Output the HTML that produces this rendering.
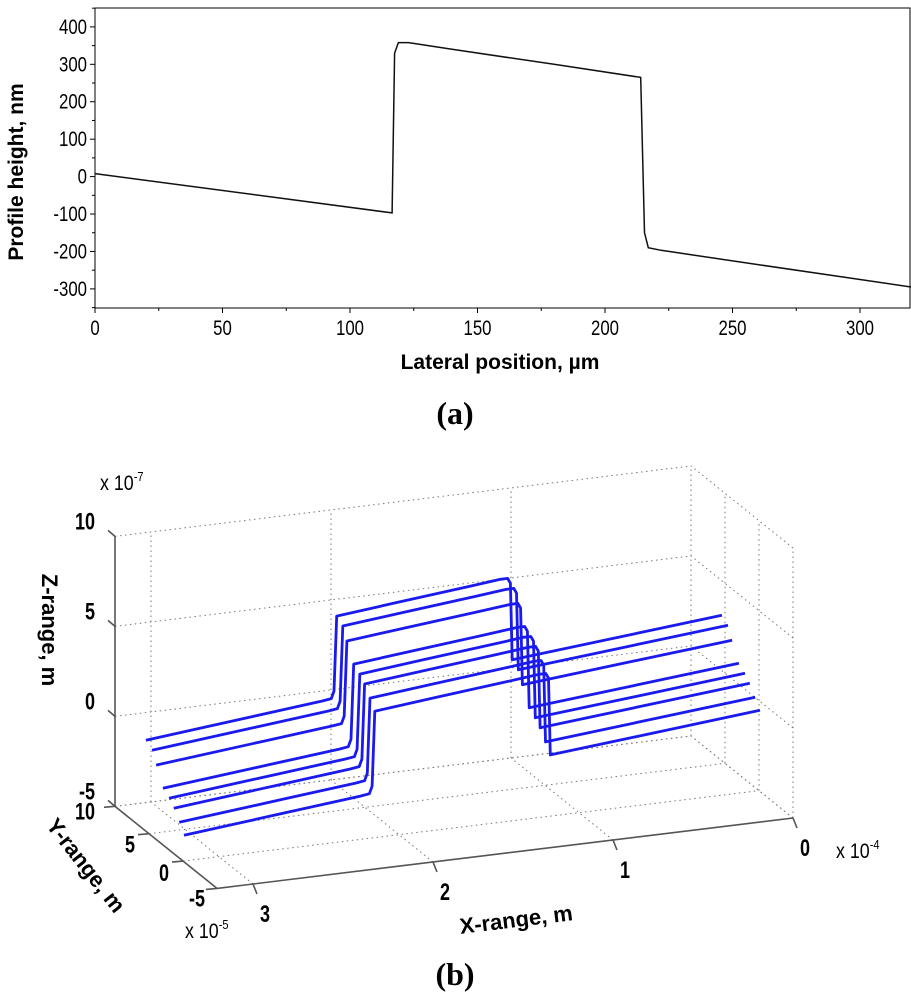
<!DOCTYPE html>
<html><head><meta charset="utf-8">
<style>
html,body{margin:0;padding:0;background:#fff;}
svg{display:block;}
text{font-family:"Liberation Sans",sans-serif;}
</style></head>
<body>
<svg id="fig" width="911" height="1000" viewBox="0 0 911 1000" xmlns="http://www.w3.org/2000/svg">
  <g id="chartA"></g>
  <text x="455" y="424" text-anchor="middle" font-weight="bold" font-size="32" style="font-family:'Liberation Serif',serif">(a)</text>
  <g id="chartB"></g>
  <text x="455" y="985" text-anchor="middle" font-weight="bold" font-size="32" style="font-family:'Liberation Serif',serif">(b)</text>
</svg>
<script>
// ---------- data: 2D profile ----------
const lateralPos = [0, 116.5, 117.5, 119, 123, 140, 180, 214, 215.5, 217, 222, 260, 320];
const heightNm   = [8, -97, 330, 358, 358, 340, 300, 265, -150, -190, -197, -235, -295];
const xTicksA = [0, 50, 100, 150, 200, 250, 300];
const yTicksA = [-300, -200, -100, 0, 100, 200, 300, 400];
// ---------- data: 3D profiles ----------
const rowY    = [8.1, 7.2, 6.6, 5.6, 4.7, 4.0, 3.2, 2.5];
const rowZOff = [-0.87, -1.15, -1.8, -2.78, -3.06, -3.4, -3.94, -4.45];
const xTicksB = [0, 1, 2, 3];
const yTicksB = [-5, 0, 5, 10];
const zTicksB = [-5, 0, 5, 10];

const NS = "http://www.w3.org/2000/svg";
function mk(parent, tag, attrs, txt){
  const e = document.createElementNS(NS, tag);
  for (const k in attrs) e.setAttribute(k, attrs[k]);
  if (txt !== undefined) e.textContent = txt;
  parent.appendChild(e);
  return e;
}
function cond(x, s){ return `translate(${x},0) scale(${s},1) translate(${-x},0)`; }

// ---------- chart A ----------
(function(){
  const g = document.getElementById('chartA');
  const L=95, R=911, T=8, B=308;
  const sx = v => L + v*2.55;
  const sy = v => 176.6 - v*0.3743;
  let e = mk(g,'rect',{x:L,y:T,width:R-L-1,height:B-T,fill:'none',stroke:'#000','stroke-width':1});
  
  
  for (let v=0; v<=320; v+=25){
    const major = v%50===0;
    e = mk(g,'line',{x1:sx(v),x2:sx(v),y1:B,y2:B+(major?5:3),stroke:'#000'});
    
    
  }
  xTicksA.forEach(v=>{
    e = mk(g,'text',{x:sx(v),y:B+27,'text-anchor':'middle','font-size':21,transform:cond(sx(v),0.8)},String(v));
    
    
  });
  for (let v=-350; v<=450; v+=50){
    const major = v%100===0;
    e = mk(g,'line',{x1:L,x2:L-(major?5:3),y1:sy(v),y2:sy(v),stroke:'#000'});
    
    
  }
  yTicksA.forEach(v=>{
    e = mk(g,'text',{x:87,y:sy(v)+7,'text-anchor':'end','font-size':21,transform:cond(87,0.8)},String(v));
    
    
  });
  const pts = lateralPos.map((x,i)=>sx(x).toFixed(1)+','+sy(heightNm[i]).toFixed(1)).join(' ');
  e = mk(g,'polyline',{points:pts,fill:'none',stroke:'#111','stroke-width':1.5});
  
  
  e = mk(g,'text',{x:500,y:369,'text-anchor':'middle','font-size':21,'font-weight':'bold'},'Lateral position, µm');
  
  
  e = mk(g,'text',{x:0,y:0,'text-anchor':'middle','font-size':21,'font-weight':'bold',transform:'translate(23,172) rotate(-90)'},'Profile height, nm');
  
  
})();

// ---------- chart B ----------
(function(){
  const g = document.getElementById('chartB');
  const P = (x,y,z)=>[793 - 180*x - 6.8*(y+5), 818 + 22*x - 5.47*(y+5) - 18*(z+5)];
  const line=(a,b,attrs,name)=>{
    const e = mk(g,'line',Object.assign({x1:a[0],y1:a[1],x2:b[0],y2:b[1]},attrs));
    
    
    return e;
  };
  const dot = {stroke:'#777','stroke-width':1,'stroke-dasharray':'1.5,3.5'};
  const XMAX=3.2;
  xTicksB.forEach(x=>line(P(x,10,-5),P(x,10,10),dot,'grid-line'));
  zTicksB.forEach(z=>line(P(XMAX,10,z),P(0,10,z),dot,'grid-line'));
  yTicksB.forEach(y=>line(P(0,y,-5),P(0,y,10),dot,'grid-line'));
  zTicksB.forEach(z=>line(P(0,-5,z),P(0,10,z),dot,'grid-line'));
  xTicksB.forEach(x=>line(P(x,-5,-5),P(x,10,-5),dot,'grid-line'));
  yTicksB.forEach(y=>line(P(XMAX,y,-5),P(0,y,-5),dot,'grid-line'));
  const ax = {stroke:'#555','stroke-width':1.6};
  line(P(XMAX,10,-5),P(XMAX,10,10),ax,'z-axis');
  line(P(XMAX,10,-5),P(XMAX,-5,-5),ax,'y-axis');
  line(P(XMAX,-5,-5),P(0,-5,-5),ax,'x-axis');
  zTicksB.forEach(z=>{const p=P(XMAX,10,z); line(p,[p[0]-7,p[1]-6],ax,'z-tick');});
  yTicksB.forEach(y=>{const p=P(XMAX,y,-5); line(p,[p[0]-11,p[1]+1],ax,'y-tick');});
  xTicksB.forEach(x=>{const p=P(x,-5,-5); line(p,[p[0]+4,p[1]+10],ax,'x-tick');});
  rowY.forEach((y,i)=>{
    const pts = lateralPos.map((lat,k)=>{
      const p = P(lat/100-0.1, y, rowZOff[i] + (heightNm[k]+295)/100);
      return p[0].toFixed(1)+','+p[1].toFixed(1);
    }).join(' ');
    const e = mk(g,'polyline',{points:pts,fill:'none',stroke:'#1a1aee','stroke-width':2.8,'stroke-linejoin':'round'});
    
    
  });
  const txt=(x,y,s,attrs,name)=>{
    const e = mk(g,'text',Object.assign({x:x,y:y,'font-size':24,'font-weight':'bold'},attrs||{}),s);
    
    
    return e;
  };
  zTicksB.forEach(z=>{const p=P(XMAX,10,z); const xx=p[0]-20; txt(xx,p[1]-7,String(z),{'text-anchor':'end',transform:cond(xx,0.75)},'z-tick-label');});
  const yOff=[[-18,13],[-14,19],[-14,20],[-12,18]];
  yTicksB.forEach((y,i)=>{const p=P(XMAX,y,-5); const xx=p[0]+yOff[3-i][0]-(y===10?2:0); txt(xx,p[1]+yOff[3-i][1],String(y),{'text-anchor':'end',transform:cond(xx,0.75)},'y-tick-label');});
  xTicksB.forEach(x=>{const p=P(x,-5,-5); txt(p[0]+12,p[1]+38,String(x),{'text-anchor':'middle',transform:cond(p[0]+12,0.75)},'x-tick-label');});
  let e = txt(100,490,'x 10',{'font-size':21,'font-weight':'normal',transform:cond(100,0.85)},'z-exponent');
  mk(e,'tspan',{dy:-9,'font-size':13},'-7');
  e = txt(185,938,'x 10',{'font-size':21,'font-weight':'normal',transform:cond(185,0.85)},'y-exponent');
  mk(e,'tspan',{dy:-9,'font-size':13},'-5');
  e = txt(836,858,'x 10',{'font-size':21,'font-weight':'normal',transform:cond(836,0.85)},'x-exponent');
  mk(e,'tspan',{dy:-9,'font-size':13},'-4');
  txt(0,0,'Z-range, m',{'text-anchor':'middle','font-size':22,transform:'translate(42,630) rotate(90)'},'z-axis-title');
  txt(0,0,'Y-range, m',{'text-anchor':'middle','font-size':22,transform:'translate(80,870) rotate(52)'},'y-axis-title');
  txt(0,0,'X-range, m',{'text-anchor':'middle','font-size':22,transform:'translate(517,927) rotate(-7)'},'x-axis-title');
})();
</script>
</body></html>
